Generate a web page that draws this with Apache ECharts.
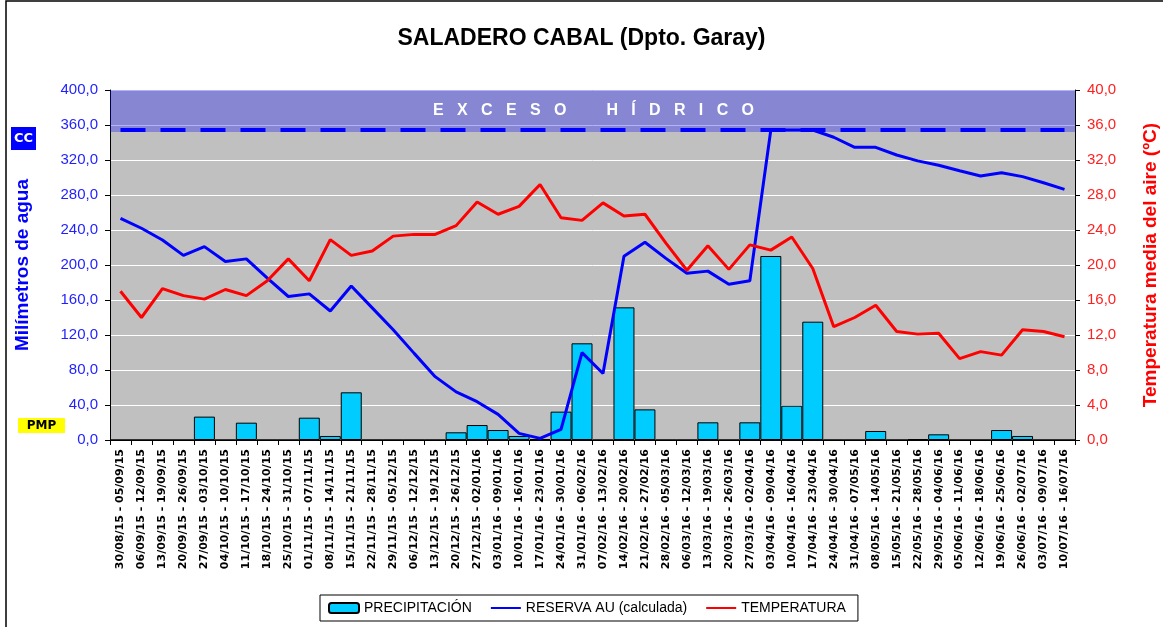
<!DOCTYPE html>
<html>
<head>
<meta charset="utf-8">
<title>Saladero Cabal</title>
<script src="https://cdn.jsdelivr.net/npm/echarts@6/dist/echarts.min.js"></script>
<style>
  html, body { margin: 0; padding: 0; background: #fff; }
  #chart { width: 1163px; height: 627px; }
</style>
</head>
<body>
<div id="chart"></div>
<script>
// semanas (eje X)
var semanas = [
  '30/08/15 - 05/09/15', '06/09/15 - 12/09/15', '13/09/15 - 19/09/15', '20/09/15 - 26/09/15',
  '27/09/15 - 03/10/15', '04/10/15 - 10/10/15', '11/10/15 - 17/10/15', '18/10/15 - 24/10/15',
  '25/10/15 - 31/10/15', '01/11/15 - 07/11/15', '08/11/15 - 14/11/15', '15/11/15 - 21/11/15',
  '22/11/15 - 28/11/15', '29/11/15 - 05/12/15', '06/12/15 - 12/12/15', '13/12/15 - 19/12/15',
  '20/12/15 - 26/12/15', '27/12/15 - 02/01/16', '03/01/16 - 09/01/16', '10/01/16 - 16/01/16',
  '17/01/16 - 23/01/16', '24/01/16 - 30/01/16', '31/01/16 - 06/02/16', '07/02/16 - 13/02/16',
  '14/02/16 - 20/02/16', '21/02/16 - 27/02/16', '28/02/16 - 05/03/16', '06/03/16 - 12/03/16',
  '13/03/16 - 19/03/16', '20/03/16 - 26/03/16', '27/03/16 - 02/04/16', '03/04/16 - 09/04/16',
  '10/04/16 - 16/04/16', '17/04/16 - 23/04/16', '24/04/16 - 30/04/16', '31/04/16 - 07/05/16',
  '08/05/16 - 14/05/16', '15/05/16 - 21/05/16', '22/05/16 - 28/05/16', '29/05/16 - 04/06/16',
  '05/06/16 - 11/06/16', '12/06/16 - 18/06/16', '19/06/16 - 25/06/16', '26/06/16 - 02/07/16',
  '03/07/16 - 09/07/16', '10/07/16 - 16/07/16'
];

// mm
var precipitacion = [
  0, 0, 0, 0, 26.7, 0, 19.8, 0, 0, 25.5, 4.6, 54.5,
  0, 0, 0, 0, 8.8, 17.1, 11.4, 4.6, 1.0, 32.4, 110.5, 0,
  151.6, 35.0, 0, 0, 20.2, 0, 20.2, 210.3, 39.2, 135.2, 0, 0,
  10.3, 0, 0.8, 6.5, 0, 0, 11.4, 4.6, 0, 0
];

// mm
var reserva = [
  253.4, 242, 228.6, 211, 221, 204, 207, 185, 164, 167, 147.4, 176,
  151, 126, 99, 72.4, 55, 43.8, 29.3, 7.6, 1.9, 12.2, 99.8, 76,
  210, 226, 207.6, 190.5, 193, 178, 182, 354.3, 354.3, 354.3, 346, 334.5,
  334.5, 325.7, 319, 314, 307.8, 301.7, 305.5, 301, 294, 286.5
];

// ºC
var temperatura = [
  17.0, 14.0, 17.3, 16.5, 16.1, 17.2, 16.5, 18.2, 20.7, 18.2, 22.9, 21.1,
  21.6, 23.3, 23.5, 23.5, 24.5, 27.2, 25.8, 26.7, 29.2, 25.4, 25.1, 27.1,
  25.6, 25.8, 22.5, 19.4, 22.2, 19.5, 22.3, 21.7, 23.2, 19.6, 12.95, 14.0,
  15.4, 12.4, 12.1, 12.2, 9.3, 10.1, 9.7, 12.6, 12.4, 11.8
];

var nivelCC = 355;      // capacidad de campo
var excesoDesde = 352;  // banda de exceso hidrico
var excesoHasta = 400;

var chart = echarts.init(document.getElementById('chart'), null, { renderer: 'canvas' });

function coma(v) {
  return v.toFixed(1).replace('.', ',');
}

var option = {
  animation: false,
  backgroundColor: '#fff',
  textStyle: { fontFamily: 'Liberation Sans, Arial, sans-serif' },
  title: {
    text: 'SALADERO CABAL (Dpto. Garay)',
    left: 'center',
    top: 22,
    textStyle: { fontSize: 23, fontWeight: 'bold', color: '#000', fontFamily: 'Liberation Sans' }
  },
  legend: {
    left: 320,
    top: 595,
    itemWidth: 30,
    itemHeight: 10,
    itemGap: 18,
    padding: [6, 12, 6, 8],
    borderColor: '#000',
    borderWidth: 1,
    textStyle: { fontSize: 14, color: '#000', fontFamily: 'Liberation Sans' },
    data: [
      { name: 'PRECIPITACIÓN' },
      { name: 'RESERVA AU (calculada)', itemStyle: { opacity: 0 } },
      { name: 'TEMPERATURA', itemStyle: { opacity: 0 } }
    ]
  },
  grid: {
    left: 110,
    right: 88,
    top: 90,
    bottom: 187,
    outerBoundsMode: 'none',
    show: true,
    backgroundColor: '#c0c0c0',
    borderWidth: 0
  },
  xAxis: {
    type: 'category',
    data: semanas,
    boundaryGap: true,
    axisLine: { lineStyle: { color: '#000', width: 1 } },
    axisTick: { show: true, length: 5, interval: 0, lineStyle: { color: '#000' } },
    axisLabel: {
      interval: 0,
      rotate: 90,
      margin: 9,
      fontSize: 11,
      fontWeight: 'bold',
      color: '#000',
      fontFamily: 'DejaVu Sans'
    },
    splitLine: { show: false }
  },
  yAxis: [
    {
      type: 'value',
      min: 0,
      max: 400,
      interval: 40,
      name: 'Milímetros de agua',
      nameLocation: 'middle',
      nameGap: 78,
      nameRotate: 90,
      nameTextStyle: { color: '#0000ff', fontSize: 19, fontWeight: 'bold', fontFamily: 'Liberation Sans' },
      axisLine: { show: true, lineStyle: { color: '#000' } },
      axisTick: { show: true, length: 5, lineStyle: { color: '#000' } },
      axisLabel: {
        margin: 12,
        fontSize: 15,
        color: '#1f1fff',
        formatter: coma
      },
      splitLine: { show: true, lineStyle: { color: '#ffffff', width: 1 } }
    },
    {
      type: 'value',
      min: 0,
      max: 40,
      interval: 4,
      position: 'right',
      name: 'Temperatura media del aire (ºC)',
      nameLocation: 'middle',
      nameGap: 66,
      nameRotate: 90,
      nameTextStyle: { color: '#ff0000', fontSize: 19, fontWeight: 'bold', fontFamily: 'Liberation Sans' },
      axisLine: { show: true, lineStyle: { color: '#000' } },
      axisTick: { show: true, length: 5, lineStyle: { color: '#000' } },
      axisLabel: {
        margin: 12,
        fontSize: 15,
        color: '#ff1f1f',
        formatter: coma
      },
      splitLine: { show: false }
    }
  ],
  series: [
    {
      name: 'PRECIPITACIÓN',
      type: 'bar',
      yAxisIndex: 0,
      data: precipitacion,
      barCategoryGap: '0%',
      itemStyle: { color: '#00ccff', borderColor: '#000', borderWidth: 1 },
      markArea: {
        silent: true,
        itemStyle: { color: 'rgba(0,0,255,0.3)' },
        label: {
          show: true,
          position: 'inside',
          offset: [1, 0],
          color: '#fff',
          fontSize: 16,
          fontWeight: 'bold',
          fontFamily: 'Liberation Sans'
        },
        data: [[
          { name: 'E   X   C   E   S   O         H   Í   D   R   I   C   O', yAxis: excesoDesde },
          { yAxis: excesoHasta }
        ]]
      }
    },
    {
      name: 'RESERVA AU (calculada)',
      type: 'line',
      yAxisIndex: 0,
      data: reserva,
      symbol: 'none',
      lineStyle: { color: '#0000ff', width: 3 },
      itemStyle: { color: '#0000ff' },
      markLine: {
        silent: true,
        symbol: ['none', 'none'],
        label: { show: false },
        lineStyle: { color: '#0000ff', width: 4, type: [25, 15], dashOffset: 0 },
        data: [[
          { coord: [semanas[0], nivelCC] },
          { coord: [semanas[semanas.length - 1], nivelCC] }
        ]]
      },
      z: 3
    },
    {
      name: 'TEMPERATURA',
      type: 'line',
      yAxisIndex: 1,
      data: temperatura,
      symbol: 'none',
      lineStyle: { color: '#ff0000', width: 3 },
      itemStyle: { color: '#ff0000' },
      z: 4
    }
  ],
  graphic: [
    {
      type: 'rect',
      shape: { x: 6, y: 1, width: 1200, height: 700 },
      style: { fill: 'none', stroke: '#000', lineWidth: 1.5 },
      silent: true
    },
    {
      type: 'group',
      left: 11,
      top: 127,
      children: [
        { type: 'rect', shape: { x: 0, y: 0, width: 25, height: 23 }, style: { fill: '#0000ff' } },
        {
          type: 'text', x: 12.5, y: 11.5,
          style: { text: 'CC', fill: '#fff', font: 'bold 13px "DejaVu Sans"', align: 'center', verticalAlign: 'middle' }
        }
      ]
    },
    {
      type: 'group',
      left: 18,
      top: 418,
      children: [
        { type: 'rect', shape: { x: 0, y: 0, width: 47, height: 15 }, style: { fill: '#ffff00' } },
        {
          type: 'text', x: 23.5, y: 7.5,
          style: { text: 'PMP', fill: '#000', font: 'bold 12px "DejaVu Sans"', align: 'center', verticalAlign: 'middle' }
        }
      ]
    }
  ]
};

chart.setOption(option);
</script>
</body>
</html>
